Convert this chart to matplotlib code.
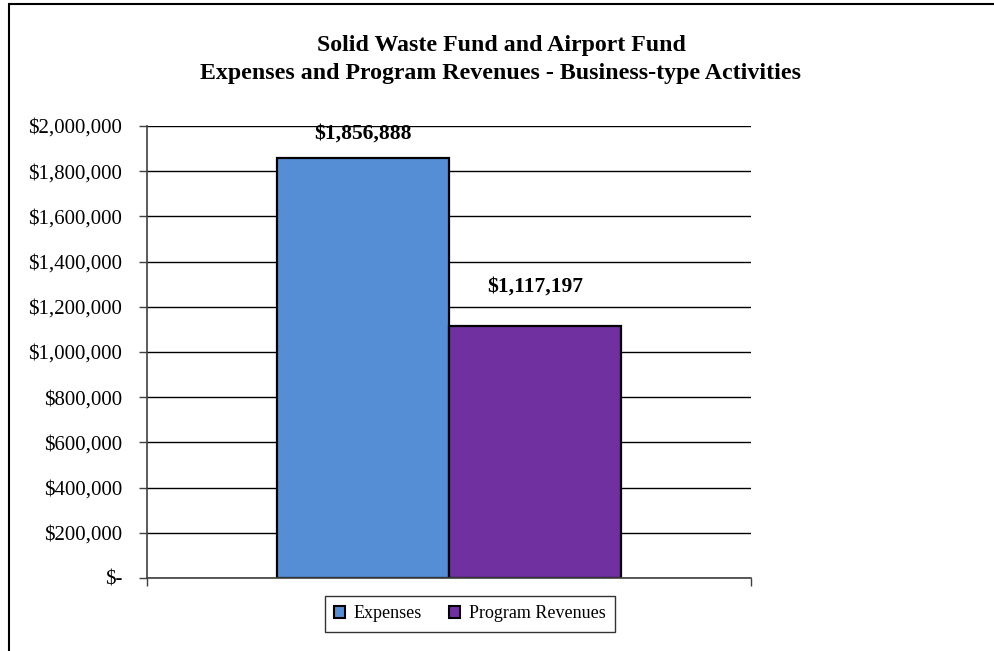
import matplotlib
matplotlib.use("Agg")
import matplotlib.pyplot as plt
from matplotlib.patches import Patch, Rectangle
from matplotlib.ticker import FuncFormatter, MultipleLocator

title_lines = ["Solid Waste Fund and Airport Fund",
               "Expenses and Program Revenues - Business-type Activities"]
series = ["Expenses", "Program Revenues"]
values = [1856888, 1117197]
colors = ["#558ED5", "#7030A0"]
label_offsets_px = [25, 39]

plt.rcParams['font.family'] = ['Liberation Serif', 'DejaVu Serif']

W, H = 994, 651
fig = plt.figure(figsize=(W / 100, H / 100), dpi=100)
fig.patch.set_facecolor("white")

# outer chart border (left/top visible)
fig.add_artist(Rectangle((8.5 / W, -0.05), 1.2, 1.05 - 4.5 / H, transform=fig.transFigure,
                         fill=False, edgecolor="black", linewidth=1.5))

ax = fig.add_axes([147 / W, 1 - 578 / H, (751 - 147) / W, (578 - 126) / H])

bw = 172 / 604
offsets = [-bw / 2, bw / 2]
for v, c, off, lo in zip(values, colors, offsets, label_offsets_px):
    ax.bar(off, v, width=bw, color=c, edgecolor="black", linewidth=1.6, zorder=3)
    ax.annotate(f"${v:,.0f}", xy=(off, v), xytext=(0, lo * 0.72), textcoords="offset points",
                ha="center", va="center", fontsize=15.5, fontweight="bold", zorder=4)

ax.set_xlim(-0.5, 0.5)
ax.set_ylim(0, 2000000)
ax.yaxis.set_major_locator(MultipleLocator(200000))
ax.yaxis.set_major_formatter(FuncFormatter(lambda v, p: "$-" if v == 0 else f"${v:,.0f}"))
ax.grid(axis="y", color="black", linewidth=1.0, zorder=0)
ax.set_axisbelow(True)
ax.set_xticks([-0.5, 0.5])
ax.set_xticklabels(["", ""])
ax.tick_params(axis="x", direction="out", length=6, width=1, color="#404040")
ax.tick_params(axis="y", direction="out", length=6, width=1, color="#404040",
               labelsize=15, pad=12)
for s in ["top", "right"]:
    ax.spines[s].set_visible(False)
for s in ["left", "bottom"]:
    ax.spines[s].set_color("#404040")
    ax.spines[s].set_linewidth(1.2)
ax.spines["bottom"].set_zorder(5)

for line, ypx in zip(title_lines, [46, 74]):
    fig.text(501 / W, 1 - ypx / H, line, ha="center", va="center", fontsize=17.2,
             fontweight="bold")

handles = [Patch(facecolor=c, edgecolor="black", linewidth=1.5) for c in colors]
leg = fig.legend(handles, series, loc="center", bbox_to_anchor=(470 / W, 1 - 614 / H),
                 ncol=2, fontsize=13, frameon=True, fancybox=False, edgecolor="black",
                 handlelength=0.6, handleheight=0.6, handletextpad=0.5, columnspacing=1.5,
                 borderpad=0.5, borderaxespad=0)
leg.get_frame().set_linewidth(1.0)

fig.savefig("out.png", dpi=100)
